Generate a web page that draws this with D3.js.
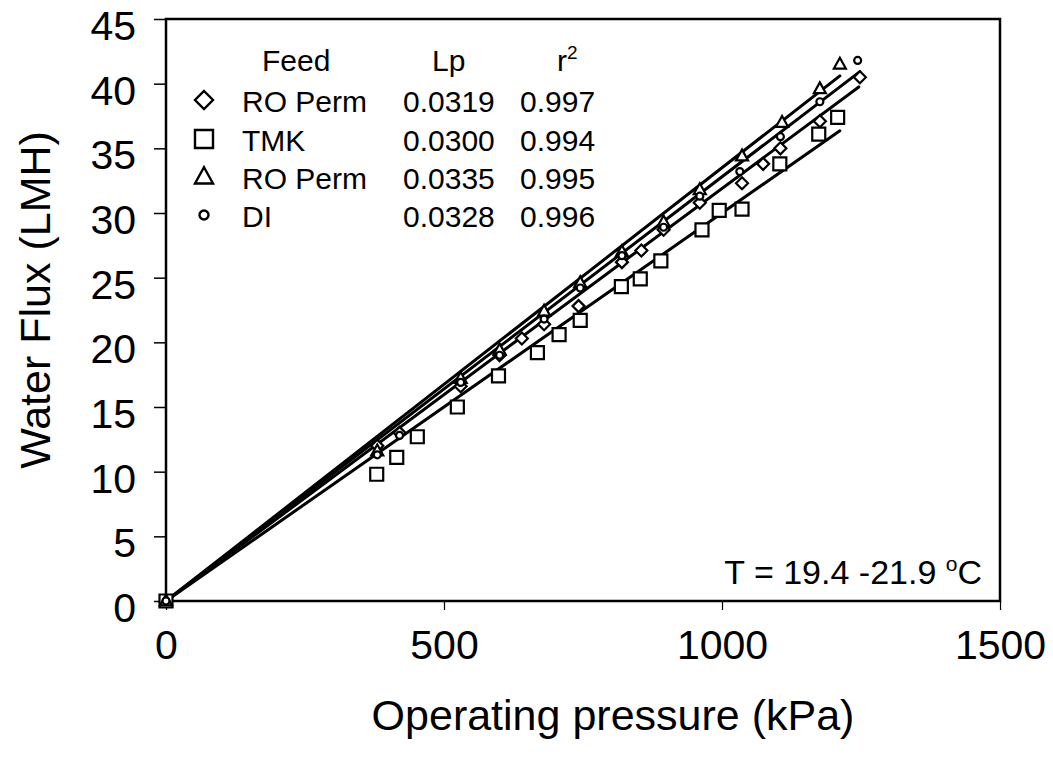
<!DOCTYPE html>
<html>
<head>
<meta charset="utf-8">
<script src="https://cdn.jsdelivr.net/npm/d3@7.9.0/dist/d3.min.js"></script>
<style>
  body { margin: 0; background: #fff; }
  svg { font-family: "Liberation Sans", Arial, Helvetica, sans-serif; }
</style>
</head>
<body>
<svg id="chart" width="1053" height="765"></svg>
<script>
// pressure (kPa) / flux (LMH)
const roPermA = [
  [0, 0], [380, 12.0], [420, 13.0], [530, 16.6], [600, 19.0], [640, 20.3],
  [680, 21.4], [742, 22.8], [820, 26.2], [855, 27.1], [895, 28.7], [960, 30.8],
  [1036, 32.3], [1074, 33.8], [1105, 35.0], [1176, 37.1], [1248, 40.5]
];
const tmk = [
  [0, 0], [379, 9.8], [415, 11.1], [452, 12.7], [524, 15.0], [598, 17.4],
  [668, 19.2], [707, 20.6], [745, 21.7], [819, 24.3], [853, 24.9], [890, 26.3],
  [964, 28.7], [995, 30.2], [1036, 30.3], [1104, 33.8], [1174, 36.1], [1208, 37.4]
];
const roPermB = [
  [0, 0], [380, 11.6], [530, 17.2], [600, 19.4], [680, 22.4], [745, 24.6],
  [820, 27.0], [895, 29.3], [960, 31.8], [1036, 34.4], [1108, 37.0],
  [1176, 39.6], [1212, 41.5]
];
const di = [
  [0, 0], [380, 11.3], [420, 12.8], [530, 16.9], [600, 19.0], [680, 21.8],
  [745, 24.2], [820, 26.7], [895, 28.9], [960, 31.3], [1032, 33.2],
  [1105, 35.9], [1176, 38.6], [1244, 41.8]
];

const feeds = ["RO Perm", "TMK", "RO Perm", "DI"];
const lp = [0.0319, 0.0300, 0.0335, 0.0328];
const r2 = ["0.997", "0.994", "0.995", "0.996"];
const fitEnd = [1246, 1212, 1212, 1248];
const shapes = ["diamond", "square", "triangle", "circle"];
const seriesData = [roPermA, tmk, roPermB, di];

const xTicks = [0, 500, 1000, 1500];
const yTicks = d3.range(0, 50, 5);

const svg = d3.select("#chart");
const x = d3.scaleLinear().domain([0, 1500]).range([166, 1000]);
const y = d3.scaleLinear().domain([0, 45]).range([601, 19]);

// marker paths, r = half size
function markerPath(shape, r) {
  if (shape === "diamond") return `M0,${-r}L${r},0L0,${r}L${-r},0Z`;
  if (shape === "square") return `M${-r},${-r}H${r}V${r}H${-r}Z`;
  if (shape === "triangle") {
    const h = r * 1.8;
    return `M0,${-h * 0.6}L${r},${h * 0.4}L${-r},${h * 0.4}Z`;
  }
  return d3.arc()({ innerRadius: 0, outerRadius: r, startAngle: 0, endAngle: 2 * Math.PI });
}
const plotSize = { diamond: 6, square: 6.5, triangle: 6, circle: 3.5 };

// frame
svg.append("rect")
  .attr("x", x(0)).attr("y", y(45))
  .attr("width", x(1500) - x(0)).attr("height", y(0) - y(45))
  .attr("fill", "none").attr("stroke", "#000").attr("stroke-width", 2.5);

// axes
const yAxis = svg.append("g")
  .attr("transform", `translate(${x(0)},0)`)
  .call(d3.axisLeft(y).tickValues(yTicks).tickSize(12).tickPadding(18));
yAxis.select(".domain").remove();
yAxis.selectAll("line").attr("stroke-width", 1.5);
yAxis.selectAll("text")
  .attr("font-size", 41).attr("fill", "#000").attr("dy", "0.5em");

const xAxis = svg.append("g")
  .attr("transform", `translate(0,${y(0)})`)
  .call(d3.axisBottom(x).tickValues(xTicks).tickFormat(d3.format("d"))
    .tickSize(9).tickPadding(20));
xAxis.select(".domain").remove();
xAxis.selectAll("line").attr("stroke-width", 1.2);
xAxis.selectAll("text")
  .attr("font-size", 41).attr("fill", "#000");

svg.append("text")
  .attr("x", 613).attr("y", 730)
  .attr("text-anchor", "middle").attr("font-size", 43)
  .text("Operating pressure (kPa)");

svg.append("text")
  .attr("transform", `translate(50,${y(22.5) - 10}) rotate(-90)`)
  .attr("text-anchor", "middle").attr("font-size", 43)
  .text("Water Flux (LMH)");

// fitted lines (flux = Lp * pressure)
svg.append("g").selectAll("line")
  .data(lp)
  .join("line")
  .attr("x1", x(0)).attr("y1", y(0))
  .attr("x2", (d, i) => x(fitEnd[i]))
  .attr("y2", (d, i) => y(d * fitEnd[i]))
  .attr("stroke", "#000").attr("stroke-width", 3)
  .attr("stroke-linecap", "round");

// data points
seriesData.forEach((data, i) => {
  svg.append("g").selectAll("path")
    .data(data)
    .join("path")
    .attr("transform", (d) => `translate(${x(d[0])},${y(d[1])})`)
    .attr("d", markerPath(shapes[i], plotSize[shapes[i]]))
    .attr("fill", "#fff").attr("stroke", "#000").attr("stroke-width", 2.2);
});

// legend
const legend = svg.append("g").attr("font-size", 30);
legend.append("text").attr("x", 262).attr("y", 71).text("Feed");
legend.append("text").attr("x", 432).attr("y", 71).text("Lp");
const r2Head = legend.append("text").attr("x", 557).attr("y", 71);
r2Head.append("tspan").text("r");
r2Head.append("tspan").attr("font-size", 19).attr("dy", -12).text("2");

const rowY = [112, 151, 189, 227];
const legendSize = { diamond: 9, square: 9, triangle: 9, circle: 4.5 };
feeds.forEach((f, i) => {
  legend.append("path")
    .attr("transform", `translate(204,${rowY[i] - 12})`)
    .attr("d", markerPath(shapes[i], legendSize[shapes[i]]))
    .attr("fill", "#fff").attr("stroke", "#000").attr("stroke-width", 2.4);
  legend.append("text").attr("x", 242).attr("y", rowY[i]).text(f);
  legend.append("text").attr("x", 403).attr("y", rowY[i]).text(lp[i].toFixed(4));
  legend.append("text").attr("x", 520).attr("y", rowY[i]).text(r2[i]);
});

// temperature note
const tNote = svg.append("text")
  .attr("x", 982).attr("y", 584)
  .attr("text-anchor", "end").attr("font-size", 34);
tNote.append("tspan").text("T = 19.4 -21.9 ");
tNote.append("tspan").attr("font-size", 21).attr("dy", -13).text("o");
tNote.append("tspan").attr("dy", 13).text("C");
</script>
</body>
</html>
